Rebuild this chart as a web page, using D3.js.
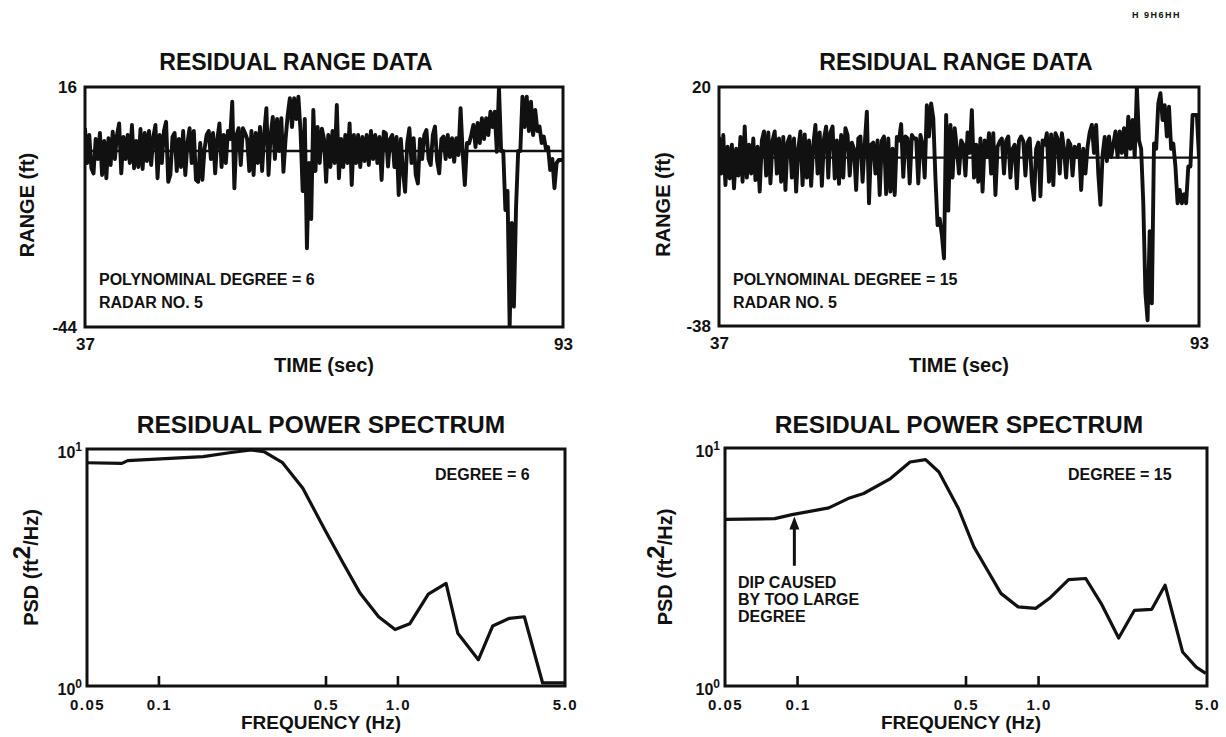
<!DOCTYPE html>
<html><head><meta charset="utf-8">
<script src="https://cdn.jsdelivr.net/npm/d3@7"></script>
<style>
body{margin:0;background:#fff}
svg{display:block}
text{font-family:"Liberation Sans",Arial,sans-serif;font-weight:bold;fill:#111}
</style>
</head><body>
<svg id="c" width="1226" height="737"></svg>
<script>
// ---------------- data ----------------
const timeDomain = [37, 93];
const timeStep = 0.25;
const rangeDomainDeg6 = [-44, 16];
const rangeDomainDeg15 = [-38, 20];
const fitLevelDeg6 = 0;
const fitLevelDeg15 = 2.85;

// residual range (ft), one value every 0.25 s from 37 s to 93 s
const residualDeg6 = [
 5.7,-3,4,-4.3,  -5.6,3,-2,4.5,  -6,2.5,-6.8,3.2,  -3.5,4.8,-2,4,
 6.9,-5.6,3.5,-2,  4,-3,6.5,-4.3,  2.5,-4,5.5,-4.5,  4.5,-2.5,5,-3.5,
 3.5,6.5,-6.8,4,  -3,5,7.3,-7.7,  -6,3.5,4.5,-5,  3,-4,5,-6,
 2,5.7,-3,5,  -7.2,-7.7,2,-7.2,  0.5,4,5,-2,  4.5,-5.6,3,6.9,
 -4,4,-3,5,  3,12.3,-9.3,4,  5.7,-3.5,5.7,4.5,  3,-5,5,-6,
 4.5,-3,6,-5,  4.5,10.7,-6,4,  8.5,-2,8,0,  8.2,-5.2,3,9,
 13.2,6,13.2,8,  13.6,5,-10,8,  -24.3,-3,-17,10.25,  -5,6,-3,5.6,
 3,-7.7,4,-4,  5,-3,11.5,-6.8,  3,-4,4,-3,  6.9,-8.5,4,-3,
 4,-4,3.5,-2.5,  4,-3.5,5,-2,  4,-3,3.5,-7.25,  4.8,4.4,-3.9,3,
 4,-4,3.5,-11,  3,-5,-10.2,2,  5.7,-3,3.2,-6,  -8.1,3,-2,4,
 5.25,-2,-3.5,4,  6.1,-2.5,-5.6,3,  3.6,-2,4,-1.5,  3.2,-2.7,3.2,-1,
 10.7,-0.5,-8.5,2,  1.9,4,6.5,1,  7,2,8.2,3,  8.2,4,9.8,6,
 9.8,-0.2,16,0,  0,-14.75,-10,-44,  -18,-38.9,-14,0,  0,13.6,6,13.6,
 5,12.3,4,10.25,  5,6.1,2,3.6,  0.5,1,-4.75,-2,  -9.3,-3,-2.25,-2.25,
 -2.25
];
const residualDeg15 = [
 7.9,-1,8.35,-3.8,  5.5,-2.2,6,-4.6,  5,-1.5,7.9,-3,  10.4,-2,6,-1,
 7.5,-2.6,5.5,-5.4,  7,9.2,-1.5,9,  -3.4,7,9.2,-1,  7.5,-3,7.9,-5,
 6.5,8,-2,7.5,  -5.4,5,9.2,-3.8,  8.5,-2,7,-4,  6,10.8,-1,9,
 -4,7.5,10.4,-2,  9,10.4,-2.2,7,  -3.5,8.35,-2,10,  8.35,-1.5,6.5,5,
 -5,7.5,8,-3,  6,14,-8.2,6,  6.5,-1,7,-6.2,  7,8,-6,7.5,
 -5.4,5,-6.2,7.9,  7,11,-1.8,8,  7.5,-3.4,8.35,7.5,  7.5,-3.4,8.35,6,
 -2,15.6,8,16,  12.4,-2,-13.5,-12,  -15.9,-21.6,13.2,-10,  10.8,-2,10,5,
 -1,7,6,-1.5,  9,4,14.4,-2,  6,-3,7.5,-5.4,  7,3,8.8,-1,
 8.8,-6.2,5.5,6.8,  7.5,-1,7,8,  -2,5,6,-4.6,  7,8,6.8,-1.5,
 6.5,7.5,-3,-7.4,  5,6.5,-6.5,7,  6,8.8,-3,8.5,  -3.8,8.8,7.5,-1,
 8.8,5,-2,7,  6,-1.5,5.5,3,  6,-5,5,-1,  5.5,9,10.8,4,
 10.8,-1,-8.6,3.5,  7.9,2,8,3,  6,9.2,3,9.2,  4,10,3,12.8,
 5,12,3,20,  7,5,-8.2,-30,  -36.6,-15,-32.5,6.3,  5,16,18.5,12,
 15.6,8,15.2,5,  6.3,0.7,-8.2,-5,  -8.2,-6,-8.2,0.7,  0.7,13.2,13.2,13.2,
 3
];

const freqDomain = [0.05, 5.0];
const psdDomain = [1, 10];
const freqTicks = [0.05, 0.1, 0.5, 1.0, 5.0];
const freqTickLabels = ["0.05", "0.1", "0.5", "1.0", "5.0"];
const innerFreqTicks = [0.1, 0.5, 1.0];

const psdFreqDeg6 = [0.05,0.070,0.074,0.153,0.197,0.243,0.275,0.329,0.40,0.495,0.591,0.695,0.83,0.973,1.12,1.34,1.59,1.78,2.17,2.49,2.93,3.38,4.03,5.0];
const psdDeg6     = [8.75,8.7,8.93,9.28,9.64,9.9,9.74,8.75,6.83,4.55,3.29,2.46,1.96,1.73,1.83,2.44,2.71,1.67,1.29,1.79,1.93,1.96,1.03,1.03];

const psdFreqDeg15 = [0.05,0.0804,0.0948,0.1348,0.162,0.188,0.243,0.293,0.34,0.386,0.465,0.539,0.602,0.698,0.823,0.973,1.107,1.333,1.57,1.82,2.15,2.5,2.95,3.35,3.96,4.51,4.94];
const psdDeg15     = [5.01,5.05,5.25,5.6,6.13,6.44,7.44,8.73,8.94,7.93,5.57,3.84,3.17,2.45,2.15,2.12,2.33,2.80,2.83,2.22,1.59,2.08,2.10,2.65,1.39,1.2,1.13];

const dipArrowFreq = 0.097;
const dipArrowTipPsd = 5.15;
const dipArrowTailPsd = 3.2;

// ---------------- drawing ----------------
const svg = d3.select("#c");
let clipId = 0;

function frame(g, x0, y0, x1, y1) {
  g.append("rect").attr("x", x0).attr("y", y0).attr("width", x1 - x0).attr("height", y1 - y0)
    .attr("fill", "none").attr("stroke", "#111").attr("stroke-width", 3);
}
function clip(x0, y0, x1, y1) {
  const id = "clip" + (clipId++);
  svg.append("clipPath").attr("id", id).append("rect")
    .attr("x", x0).attr("y", y0).attr("width", x1 - x0).attr("height", y1 - y0);
  return "url(#" + id + ")";
}
function rotLabel(x, y, parts) {
  const t = svg.append("text").attr("transform", `translate(${x},${y}) rotate(-90)`)
    .attr("text-anchor", "middle").style("font-size", "20px");
  parts.forEach(p => {
    const s = t.append("tspan").text(p.t);
    if (p.sup) s.style("font-size", "24px").attr("baseline-shift", "35%");
  });
}

function rangePanel(c) {
  const x = d3.scaleLinear().domain(timeDomain).range([c.x0, c.x1]);
  const y = d3.scaleLinear().domain(c.domain).range([c.y1, c.y0]);
  const g = svg.append("g");
  const cp = clip(c.x0, c.y0, c.x1, c.y1);
  g.append("line").attr("x1", c.x0).attr("x2", c.x1).attr("y1", y(c.fit)).attr("y2", y(c.fit))
    .attr("stroke", "#111").attr("stroke-width", 2.4).attr("clip-path", cp);
  g.append("path").datum(c.data)
    .attr("d", d3.line().x((d, i) => x(timeDomain[0] + i * timeStep)).y(d => y(d)))
    .attr("fill", "none").attr("stroke", "#111").attr("stroke-width", 3.9)
    .attr("stroke-linejoin", "round").attr("clip-path", cp);
  frame(g, c.x0, c.y0, c.x1, c.y1);

  const ax = g.append("g").attr("transform", `translate(0,${c.y1})`)
    .call(d3.axisBottom(x).tickValues(timeDomain).tickSize(0).tickPadding(11).tickFormat(d => String(d)));
  ax.select(".domain").remove();
  ax.selectAll("text").style("font-size", "17px").style("font-family", null).attr("fill", "#111");
  const ay = g.append("g").attr("transform", `translate(${c.x0},0)`)
    .call(d3.axisLeft(y).tickValues(c.domain).tickSize(0).tickPadding(8).tickFormat(d => String(d)));
  ay.select(".domain").remove();
  ay.selectAll("text").style("font-size", "17px").style("font-family", null).attr("fill", "#111");

  svg.append("text").attr("x", c.titleX).attr("y", 70).attr("text-anchor", "middle")
    .style("font-size", "23px").text("RESIDUAL RANGE DATA");
  svg.append("text").attr("x", (c.x0 + c.x1) / 2).attr("y", 372).attr("text-anchor", "middle")
    .style("font-size", "20px").text("TIME (sec)");
  rotLabel(c.labelX, (c.y0 + c.y1) / 2 - 2, [{t: "RANGE (ft)"}]);
  svg.append("text").attr("x", c.x0 + 14).attr("y", 285).style("font-size", "16px").text(c.note1);
  svg.append("text").attr("x", c.x0 + 14).attr("y", 308).style("font-size", "16px").text("RADAR NO. 5");
}

function psdPanel(c) {
  const x = d3.scaleLog().domain(freqDomain).range([c.x0, c.x1]);
  const y = d3.scaleLog().domain(psdDomain).range([c.y1, c.y0]);
  const g = svg.append("g");
  const cp = clip(c.x0, c.y0 - 2, c.x1, c.y1);
  g.append("path").datum(d3.zip(c.freq, c.psd))
    .attr("d", d3.line().x(d => x(d[0])).y(d => y(d[1])))
    .attr("fill", "none").attr("stroke", "#111").attr("stroke-width", 3.2)
    .attr("stroke-linejoin", "round").attr("clip-path", cp);
  g.selectAll("line.tk").data(innerFreqTicks).join("line").attr("class", "tk")
    .attr("x1", d => x(d)).attr("x2", d => x(d)).attr("y1", c.y1).attr("y2", c.y1 - 10)
    .attr("stroke", "#111").attr("stroke-width", 2.6);
  frame(g, c.x0, c.y0, c.x1, c.y1);

  const ax = g.append("g").attr("transform", `translate(0,${c.y1})`)
    .call(d3.axisBottom(x).tickValues(freqTicks).tickSize(0).tickPadding(13)
      .tickFormat((d, i) => freqTickLabels[i]));
  ax.select(".domain").remove();
  ax.selectAll("text").style("font-size", "15px").style("font-family", null)
    .style("letter-spacing", "1.5px").attr("fill", "#111");

  psdDomain.forEach((v, i) => {
    const t = svg.append("text").attr("x", c.x0 - 5).attr("y", y(v) + 9)
      .attr("text-anchor", "end").style("font-size", "16px");
    t.append("tspan").text("10");
    t.append("tspan").text(String(i)).style("font-size", "12px").attr("dy", -7);
  });

  svg.append("text").attr("x", c.titleX).attr("y", 433).attr("text-anchor", "middle")
    .style("font-size", "24.5px").text("RESIDUAL POWER SPECTRUM");
  svg.append("text").attr("x", (c.x0 + c.x1) / 2 - 5).attr("y", 729).attr("text-anchor", "middle")
    .style("font-size", "19px").text("FREQUENCY (Hz)");
  rotLabel(c.labelX, (c.y0 + c.y1) / 2, [{t: "PSD (ft"}, {t: "2", sup: true}, {t: "/Hz)"}]);
  svg.append("text").attr("x", c.degX).attr("y", 480).style("font-size", "16px").text(c.degText);
  return {x, y};
}

rangePanel({x0: 85, x1: 563, y0: 87, y1: 327, data: residualDeg6, domain: rangeDomainDeg6,
  fit: fitLevelDeg6, titleX: 296, labelX: 34, note1: "POLYNOMINAL DEGREE = 6"});
rangePanel({x0: 719, x1: 1199, y0: 87, y1: 326, data: residualDeg15, domain: rangeDomainDeg15,
  fit: fitLevelDeg15, titleX: 956, labelX: 670, note1: "POLYNOMINAL DEGREE = 15"});

psdPanel({x0: 87, x1: 565, y0: 449, y1: 686, freq: psdFreqDeg6, psd: psdDeg6,
  labelX: 38, degX: 435, degText: "DEGREE = 6", titleX: 321});
const br = psdPanel({x0: 725, x1: 1207, y0: 448, y1: 686, freq: psdFreqDeg15, psd: psdDeg15,
  labelX: 672, degX: 1068, degText: "DEGREE = 15", titleX: 959});

// annotation arrow
const ax0 = br.x(dipArrowFreq), yTip = br.y(dipArrowTipPsd), yTail = br.y(dipArrowTailPsd);
svg.append("line").attr("x1", ax0).attr("x2", ax0).attr("y1", yTip + 8).attr("y2", yTail)
  .attr("stroke", "#111").attr("stroke-width", 3);
svg.append("path").attr("d", `M${ax0},${yTip} L${ax0 - 5},${yTip + 13} L${ax0 + 5},${yTip + 13} Z`).attr("fill", "#111");
["DIP CAUSED", "BY TOO LARGE", "DEGREE"].forEach((s, i) => {
  svg.append("text").attr("x", 738).attr("y", 588 + i * 17).style("font-size", "16px").text(s);
});

svg.append("text").attr("x", 1132).attr("y", 18).style("font-size", "9px")
  .style("letter-spacing", "1.5px").text("H 9H6HH");
</script>
</body></html>
